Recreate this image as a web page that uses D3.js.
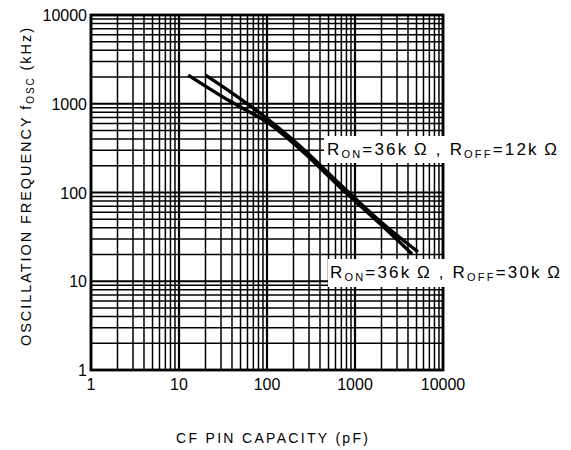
<!DOCTYPE html>
<html><head><meta charset="utf-8">
<script src="https://cdn.jsdelivr.net/npm/d3@7"></script>
<style>
body{margin:0;background:#fff;}
svg{display:block;font-family:"Liberation Sans",Arial,Helvetica,sans-serif;}
</style></head>
<body>
<svg id="chart" width="571" height="450"></svg>
<script>
// Data
const xTicks = [1, 10, 100, 1000, 10000];
const yTicks = [1, 10, 100, 1000, 10000];
const capA = [20, 45, 100, 240, 680, 1900, 5200];      // pF
const freqA = [2100, 1220, 680, 330, 123, 48, 21.4];   // kHz
const capB = [12.7, 36, 100, 240, 680, 1900, 4450];
const freqB = [2100, 1100, 620, 305, 114, 45, 20.3];
const labelA = {on: "36k", off: "12k", cap: 481, freq: 265};
const labelB = {on: "36k", off: "30k", cap: 520, freq: 10.9};

const svg = d3.select("#chart");
const L = 91, R = 443, T = 15, B = 370;
const x = d3.scaleLog().domain([1, 10000]).range([L, R]);
const y = d3.scaleLog().domain([1, 10000]).range([B, T]);

// grid values
const gridVals = [];
for (let d = 1; d < 10000; d *= 10) for (let m = 1; m <= 9; m++) gridVals.push(d * m);
gridVals.push(10000);
const isMajor = v => Math.abs(Math.log10(v) - Math.round(Math.log10(v))) < 1e-9;

const g = svg.append("g");
g.selectAll(".vg").data(gridVals).join("line")
  .attr("x1", d => x(d)).attr("x2", d => x(d)).attr("y1", T).attr("y2", B)
  .attr("stroke", "#000").attr("stroke-width", d => isMajor(d) ? 2.2 : 1.5);
g.selectAll(".hg").data(gridVals).join("line")
  .attr("y1", d => y(d)).attr("y2", d => y(d)).attr("x1", L).attr("x2", R)
  .attr("stroke", "#000").attr("stroke-width", d => isMajor(d) ? 2.2 : 1.5);
g.append("rect").attr("x", L).attr("y", T).attr("width", R - L).attr("height", B - T)
  .attr("fill", "none").attr("stroke", "#000").attr("stroke-width", 2.8);

// tick labels
svg.selectAll(".xt").data(xTicks).join("text")
  .attr("x", d => x(d)).attr("y", 390).attr("text-anchor", "middle")
  .attr("font-size", 16).attr("fill", "#000").text(d => d);
svg.selectAll(".yt").data(yTicks).join("text")
  .attr("x", 87).attr("y", d => y(d) + 6).attr("text-anchor", "end")
  .attr("font-size", 16).attr("fill", "#000").text(d => d);

// curves
const line = d3.line().x(d => x(d[0])).y(d => y(d[1])).curve(d3.curveCatmullRom);
const dataA = capA.map((c, i) => [c, freqA[i]]);
const dataB = capB.map((c, i) => [c, freqB[i]]);
[dataA, dataB].forEach(dd => {
  svg.append("path").datum(dd).attr("d", line).attr("fill", "none")
    .attr("stroke", "#000").attr("stroke-width", 3.4).attr("stroke-linejoin", "round");
});

// labels with white background
function addLabel(lab, bx, by, bw, bh) {
  svg.append("rect").attr("x", bx).attr("y", by).attr("width", bw).attr("height", bh).attr("fill", "#fff");
  const t = svg.append("text").attr("x", x(lab.cap)).attr("y", y(lab.freq))
    .attr("font-size", 17).attr("fill", "#000")
    .attr("textLength", 230).attr("lengthAdjust", "spacing");
  t.append("tspan").text("R");
  t.append("tspan").attr("font-size", 11).attr("dy", 3).text("ON");
  t.append("tspan").attr("dy", -3).text("=" + lab.on + "\u2009\u03A9 , R");
  t.append("tspan").attr("font-size", 11).attr("dy", 3).text("OFF");
  t.append("tspan").attr("dy", -3).text("=" + lab.off + "\u2009\u03A9");
  return t;
}
addLabel(labelA, 324, 136, 240, 27);
addLabel(labelB, 328, 259, 240, 28);

// axis titles
svg.append("text").attr("x", 272).attr("y", 443).attr("text-anchor", "middle")
  .attr("font-size", 14).attr("fill", "#000")
  .attr("textLength", 192).attr("lengthAdjust", "spacing")
  .text("CF PIN CAPACITY  (pF)");
const yt = svg.append("text").attr("transform", "translate(31,187) rotate(-90)")
  .attr("text-anchor", "middle").attr("font-size", 14.5).attr("fill", "#000")
  .attr("textLength", 318).attr("lengthAdjust", "spacing");
yt.append("tspan").text("OSCILLATION FREQUENCY f");
yt.append("tspan").attr("font-size", 10).attr("dy", 3).text("OSC");
yt.append("tspan").attr("dy", -3).text("  (kHz)");
</script>
</body></html>
